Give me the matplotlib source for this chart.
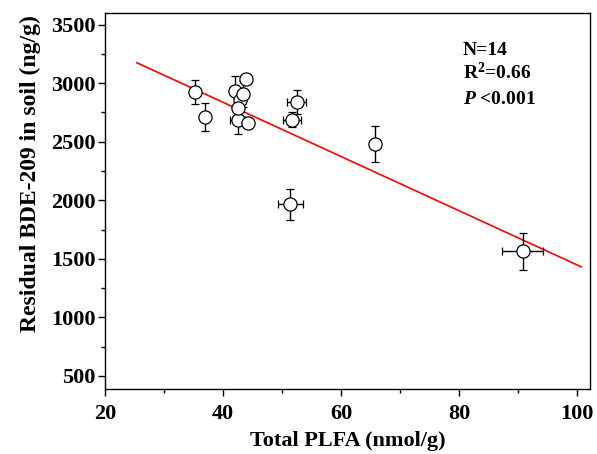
import numpy as np
import matplotlib
matplotlib.use("Agg")
import matplotlib.pyplot as plt
from matplotlib.ticker import MultipleLocator

plt.rcParams['font.family'] = ['Liberation Serif', 'DejaVu Serif']
plt.rcParams['font.weight'] = 'bold'
plt.rcParams['mathtext.fontset'] = 'custom'
plt.rcParams['mathtext.rm'] = 'Liberation Serif:bold'
plt.rcParams['mathtext.it'] = 'Liberation Serif:italic:bold'
plt.rcParams['mathtext.bf'] = 'Liberation Serif:bold'

# total PLFA (nmol/g) vs residual BDE-209 (ng/g)
plfa = [35.3, 36.9, 42.0, 43.9, 42.9, 42.5, 44.2, 42.6, 43.4, 52.5, 51.7, 51.4, 65.8, 90.8]
bde = [2925, 2715, 2930, 3035, 2855, 2690, 2660, 2790, 2910, 2840, 2690, 1965, 2480, 1565]
plfa_err = [0.3, 0.3, 0.3, 0.8, 0.4, 1.3, 0.5, 0.3, 0.3, 1.6, 1.6, 2.1, 0.6, 3.5]
bde_err = [100, 120, 135, 40, 100, 120, 40, 90, 110, 100, 60, 135, 155, 158]

# regression line
slope = -23.15
intercept = 3763
fit_x = [25.4, 100.7]

fig = plt.figure(figsize=(5.97, 4.54), dpi=100)
ax = fig.add_axes([0.1759, 0.1432, 0.8124, 0.8282])

fx = np.array(fit_x)
ax.plot(fx, slope * fx + intercept, color='red', lw=1.2, zorder=1)

ax.errorbar(plfa, bde, xerr=plfa_err, yerr=bde_err, fmt='o', mfc='white',
            mec='black', mew=0.9, ms=9.5, ecolor='black', elinewidth=1.0,
            capsize=2.8, capthick=1.0, zorder=3)

ax.set_xlim(20, 102.2)
ax.set_ylim(388, 3600)
ax.xaxis.set_major_locator(MultipleLocator(20))
ax.xaxis.set_minor_locator(MultipleLocator(10))
ax.yaxis.set_major_locator(MultipleLocator(500))
ax.yaxis.set_minor_locator(MultipleLocator(250))
ax.tick_params(which='major', direction='out', length=5, width=1.0, labelsize=16, pad=2)
ax.tick_params(axis='x', which='major', pad=5.5)
ax.tick_params(which='minor', direction='out', length=3, width=1.0)
for s in ax.spines.values():
    s.set_linewidth(1.0)

ax.set_xlabel('Total PLFA (nmol/g)', fontsize=16, fontweight='bold', labelpad=5)
ax.set_ylabel('Residual BDE-209 in soil (ng/g)', fontsize=17, fontweight='bold')
ax.yaxis.set_label_coords(-0.131, 0.574)

ax.text(0.738, 0.888, 'N=14', transform=ax.transAxes, fontsize=14, fontweight='bold')
ax.text(0.738, 0.824, r'R$^{\mathbf{2}}$=0.66', transform=ax.transAxes, fontsize=14, fontweight='bold')
ax.text(0.738, 0.758, r'$\mathit{P}$ <0.001', transform=ax.transAxes, fontsize=14, fontweight='bold')

fig.savefig('out.png', dpi=100)
